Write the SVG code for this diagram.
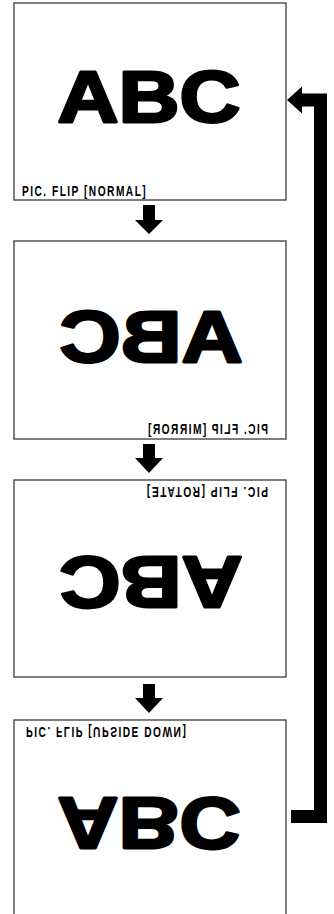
<svg xmlns="http://www.w3.org/2000/svg" width="334" height="914" viewBox="0 0 334 914">
<style>
.box{fill:#fff;stroke:#3a3a3a;stroke-width:1.3}
.big{font-family:"Liberation Sans",Arial,sans-serif;font-weight:bold;font-size:73px;fill:#000;stroke:#000;stroke-width:2.8;stroke-linejoin:round}
.lbl{font-family:"Liberation Sans",Arial,sans-serif;font-weight:bold;font-size:15px;fill:#000}
.arr{fill:#000;stroke:none}
.loop{fill:none;stroke:#000;stroke-width:13;stroke-linejoin:miter}
</style>
<rect width="334" height="914" fill="#fff"/>
<g id="normal">
<rect class="box" x="14" y="3" width="272" height="197"/>
<text class="big" x="57.5" y="121.5" textLength="183" lengthAdjust="spacingAndGlyphs">ABC</text>
<g transform="translate(22,0) scale(0.68,1)"><text class="lbl" x="0" y="196.5" textLength="182" lengthAdjust="spacing">PIC. FLIP [NORMAL]</text></g>
</g>
<g id="mirror">
<rect class="box" x="14" y="241" width="272" height="198"/>
<g transform="translate(301,0) scale(-1,1)"><text class="big" x="58.5" y="361.5" textLength="183" lengthAdjust="spacingAndGlyphs">ABC</text></g>
<g transform="translate(416,0) scale(-1,1)"><g transform="translate(148,0) scale(0.68,1)"><text class="lbl" x="0" y="434.5" textLength="176.5" lengthAdjust="spacing">PIC. FLIP [MIRROR]</text></g></g>
</g>
<g id="rotate">
<rect class="box" x="14" y="480" width="272" height="197"/>
<g transform="rotate(180,150.5,583.5)"><text class="big" x="58.5" y="610.5" textLength="183" lengthAdjust="spacingAndGlyphs">ABC</text></g>
<g transform="rotate(180,208,492)"><g transform="translate(148,0) scale(0.68,1)"><text class="lbl" x="0" y="497.5" textLength="178" lengthAdjust="spacing">PIC. FLIP [ROTATE]</text></g></g>
</g>
<g id="upside-down">
<rect class="box" x="14" y="720" width="272" height="210"/>
<g transform="translate(0,1649) scale(1,-1)"><text class="big" x="57.5" y="851.5" textLength="183" lengthAdjust="spacingAndGlyphs">ABC</text></g>
<g transform="translate(0,1464) scale(1,-1)"><g transform="translate(26,0) scale(0.68,1)"><text class="lbl" x="0" y="737.5" textLength="235" lengthAdjust="spacing">PIC. FLIP [UPSIDE DOWN]</text></g></g>
</g>
<g id="connectors">
<polygon class="arr" points="143,205 155,205 155,220 163,220 149,234 135,220 143,220"/>
<polygon class="arr" points="143,444 155,444 155,458 163,458 149,473 135,458 143,458"/>
<polygon class="arr" points="143,684 155,684 155,698 163,698 149,713 135,698 143,698"/>
<path class="loop" d="M291,816.5 H320.5 V100 H301"/>
<polygon class="arr" points="287,100 302,86.5 302,113.5"/>
</g>
</svg>
